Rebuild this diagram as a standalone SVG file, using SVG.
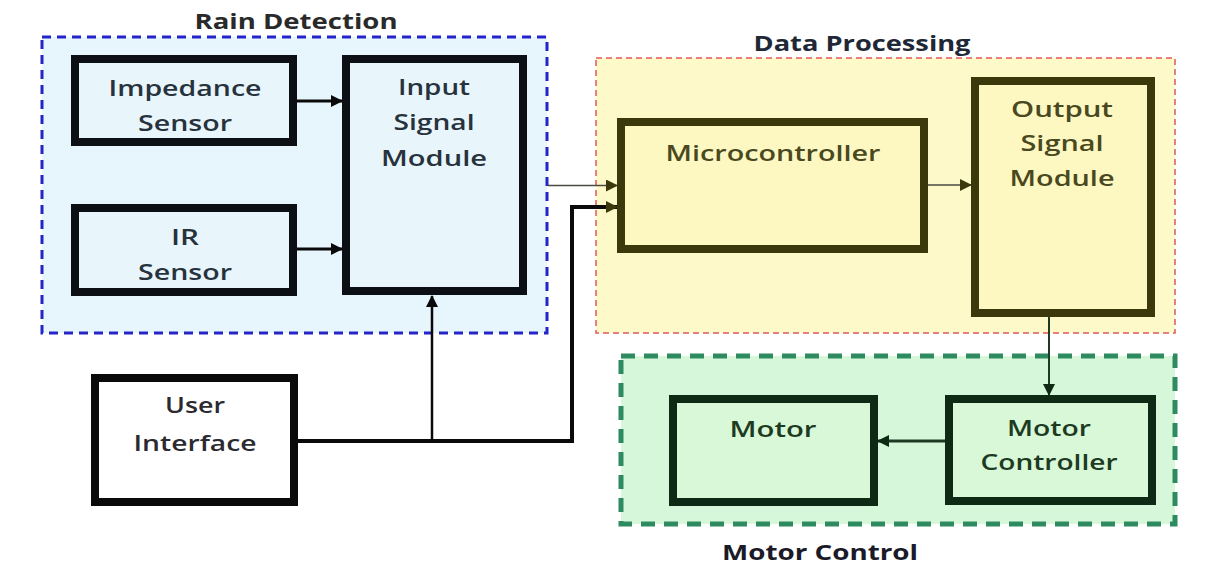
<svg xmlns="http://www.w3.org/2000/svg" width="1208" height="566" viewBox="0 0 1208 566">
<style>
  text { font-family: "Open Sans", "Liberation Sans", sans-serif; font-size: 22px; font-weight: 600; text-anchor: middle; }
  .title { font-weight: 700; }
  .rain-bg { fill: #e6f6fc; stroke: #2424c8; stroke-width: 3; stroke-dasharray: 9 6; }
  .data-bg { fill: #fdf9c8; stroke: #e05a5a; stroke-width: 1.5; stroke-dasharray: 6 4; }
  .motor-bg { fill: #d6f7da; stroke: #2e8b60; stroke-width: 5; stroke-dasharray: 14 9; }
  .box-blue { fill: #e8f6fc; stroke: #0c0f14; stroke-width: 8; }
  .box-yellow { fill: #fdf8c2; stroke: #3b390c; stroke-width: 8; }
  .box-green { fill: #d8f8d8; stroke: #0f2a14; stroke-width: 8; }
  .box-white { fill: #ffffff; stroke: #0a0a0a; stroke-width: 8; }
  .t-blue { fill: #27323d; }
  .t-yellow { fill: #4a4820; }
  .t-green { fill: #1d3a22; }
  .t-white { fill: #2a2a30; }
  .conn { fill: none; }
</style>
<defs>
  <marker id="ah-black" markerUnits="userSpaceOnUse" markerWidth="12" markerHeight="12" viewBox="0 0 12 12" refX="11" refY="6" orient="auto">
    <path d="M0,0 L12,6 L0,12 z" fill="#0a0a0a"/>
  </marker>
  <marker id="ah-olive" markerUnits="userSpaceOnUse" markerWidth="12" markerHeight="12" viewBox="0 0 12 12" refX="11" refY="6" orient="auto">
    <path d="M0,0 L12,6 L0,12 z" fill="#3b390c"/>
  </marker>
  <marker id="ah-green" markerUnits="userSpaceOnUse" markerWidth="12" markerHeight="12" viewBox="0 0 12 12" refX="11" refY="6" orient="auto">
    <path d="M0,0 L12,6 L0,12 z" fill="#0f2a14"/>
  </marker>
</defs>

<g id="rain-detection">
  <rect class="rain-bg" x="42" y="37" width="505" height="296"/>
  <text class="title" x="296" y="29" fill="#2a2a2a" textLength="203" lengthAdjust="spacingAndGlyphs">Rain Detection</text>
</g>
<g id="data-processing">
  <rect class="data-bg" x="596" y="58" width="579" height="275"/>
  <text class="title" x="862" y="51" fill="#1e2836" textLength="217" lengthAdjust="spacingAndGlyphs">Data Processing</text>
</g>
<g id="motor-control">
  <rect class="motor-bg" x="621" y="356" width="554" height="168"/>
  <text class="title" x="820" y="560" fill="#1a1a28" textLength="196" lengthAdjust="spacingAndGlyphs">Motor Control</text>
</g>

<g id="impedance-sensor">
  <rect class="box-blue" x="75" y="59" width="218" height="83"/>
  <text class="t-blue" x="185" y="96" textLength="153" lengthAdjust="spacingAndGlyphs">Impedance</text>
  <text class="t-blue" x="185" y="131" textLength="94" lengthAdjust="spacingAndGlyphs">Sensor</text>
</g>
<g id="ir-sensor">
  <rect class="box-blue" x="75" y="208" width="218" height="84"/>
  <text class="t-blue" x="185" y="245" textLength="28" lengthAdjust="spacingAndGlyphs">IR</text>
  <text class="t-blue" x="185" y="280" textLength="94" lengthAdjust="spacingAndGlyphs">Sensor</text>
</g>
<g id="input-signal-module">
  <rect class="box-blue" x="346" y="59" width="177" height="232"/>
  <text class="t-blue" x="434" y="95" textLength="72" lengthAdjust="spacingAndGlyphs">Input</text>
  <text class="t-blue" x="434" y="130" textLength="81" lengthAdjust="spacingAndGlyphs">Signal</text>
  <text class="t-blue" x="434" y="166" textLength="106" lengthAdjust="spacingAndGlyphs">Module</text>
</g>
<g id="microcontroller">
  <rect class="box-yellow" x="621" y="122" width="303" height="127"/>
  <text class="t-yellow" x="773" y="161" textLength="215" lengthAdjust="spacingAndGlyphs">Microcontroller</text>
</g>
<g id="output-signal-module">
  <rect class="box-yellow" x="975" y="81" width="176" height="232"/>
  <text class="t-yellow" x="1062" y="117" textLength="102" lengthAdjust="spacingAndGlyphs">Output</text>
  <text class="t-yellow" x="1062" y="151" textLength="83" lengthAdjust="spacingAndGlyphs">Signal</text>
  <text class="t-yellow" x="1062" y="186" textLength="105" lengthAdjust="spacingAndGlyphs">Module</text>
</g>
<g id="motor">
  <rect class="box-green" x="673" y="399" width="201" height="103"/>
  <text class="t-green" x="773" y="437" textLength="87" lengthAdjust="spacingAndGlyphs">Motor</text>
</g>
<g id="motor-controller">
  <rect class="box-green" x="949" y="399" width="203" height="102"/>
  <text class="t-green" x="1049" y="436" textLength="84" lengthAdjust="spacingAndGlyphs">Motor</text>
  <text class="t-green" x="1049" y="470" textLength="137" lengthAdjust="spacingAndGlyphs">Controller</text>
</g>
<g id="user-interface">
  <rect class="box-white" x="95" y="378" width="199" height="124"/>
  <text class="t-white" x="195" y="413" textLength="60" lengthAdjust="spacingAndGlyphs">User</text>
  <text class="t-white" x="195" y="451" textLength="123" lengthAdjust="spacingAndGlyphs">Interface</text>
</g>

<g id="connectors" class="conn">
  <line x1="297" y1="101" x2="342" y2="101" stroke="#0a0a0a" stroke-width="3" marker-end="url(#ah-black)"/>
  <line x1="297" y1="249" x2="342" y2="249" stroke="#0a0a0a" stroke-width="3" marker-end="url(#ah-black)"/>
  <line x1="548" y1="185.5" x2="617" y2="185.5" stroke="#4a4a40" stroke-width="1.5" marker-end="url(#ah-olive)"/>
  <path d="M298,441 H572 V207 H617" stroke="#0a0a0a" stroke-width="4" fill="none" marker-end="url(#ah-olive)"/>
  <line x1="432" y1="441" x2="432" y2="296" stroke="#0a0a0a" stroke-width="2.5" marker-end="url(#ah-black)"/>
  <line x1="928" y1="185" x2="971" y2="185" stroke="#4a4a40" stroke-width="1.5" marker-end="url(#ah-olive)"/>
  <line x1="1049" y1="317" x2="1049" y2="395" stroke="#1f3a22" stroke-width="2" marker-end="url(#ah-green)"/>
  <line x1="945" y1="441" x2="878" y2="441" stroke="#1f3a22" stroke-width="3" marker-end="url(#ah-green)"/>
</g>
</svg>
